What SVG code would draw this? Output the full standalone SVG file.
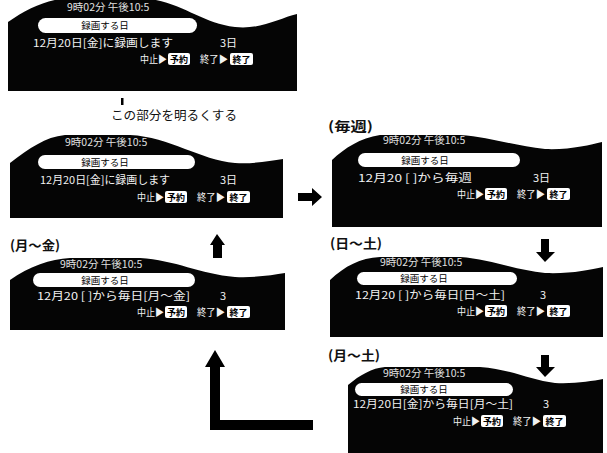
<svg xmlns="http://www.w3.org/2000/svg" xmlns:xlink="http://www.w3.org/1999/xlink" width="607" height="453" viewBox="0 0 607 453">
<style>
text{font-family:"Noto Sans CJK JP","Noto Sans",sans-serif}
.lcd{fill:#050505}
.st{fill:#e0e0e0;font-size:10.5px}
.pill{fill:#fff}
.pt{fill:#000;font-size:9.5px;text-anchor:middle}
.l2{fill:#f2f2f2;font-size:11px}
.l3{fill:#f2f2f2;font-size:10px}
.bx{fill:#fff}
.bt{fill:#000;font-size:9px;text-anchor:middle;font-weight:bold}
.lab{fill:#111;font-size:13px;font-weight:bold}
.note{fill:#111;font-size:12.5px}
.arr{fill:#000}
</style>
<defs>
<path id="s1" d="M8,22 C28,8 48,-1 70,-2 L140,-2 C180,0 200,23 235,27 C260,30 280,18 297,14 L297,91 L8,91 Z"/>
<path id="s2" d="M10,163 C30,148 45,137 65,135 L130,135 C170,137 200,160 235,163 C255,164 270,161 283,159 L283,218 L10,218 Z"/>
<path id="s3" d="M332,160 C345,148 360,138 380,135 L460,135 C490,137 515,146 545,149 C570,150 590,145 602,142 L602,227 L332,227 Z"/>
<path id="s4" d="M330,280 C345,266 360,258 380,257 L460,257 C490,259 515,270 545,273 C570,274 590,270 603,267 L603,337 L330,337 Z"/>
<path id="s6" d="M10,280 C30,266 50,259 70,258 L140,258 C175,260 200,274 235,277 C255,278 272,275 285,273 L285,330 L10,330 Z"/>
<path id="s5" d="M348,385 C360,375 372,368 385,367 L480,367 C510,369 530,380 555,383 C575,384 592,381 603,379 L603,453 L348,453 Z"/>
<clipPath id="c1"><use xlink:href="#s1"/></clipPath>
<clipPath id="c2"><use xlink:href="#s2"/></clipPath>
<clipPath id="c3"><use xlink:href="#s3"/></clipPath>
<clipPath id="c4"><use xlink:href="#s4"/></clipPath>
<clipPath id="c6"><use xlink:href="#s6"/></clipPath>
<clipPath id="c5"><use xlink:href="#s5"/></clipPath>
</defs>

<!-- Screen 1 (top) -->
<g id="screen1">
<use xlink:href="#s1" class="lcd"/>
<g clip-path="url(#c1)"><text class="st" x="67" y="11">9時02分 午後10:5</text></g>
<rect class="pill" x="38" y="18" width="159" height="15" rx="7.5"/>
<text class="pt" x="105" y="29">録画する日</text>
<text class="l2" x="33" y="47" textLength="140" lengthAdjust="spacingAndGlyphs">12月20日[金]に録画します</text>
<text class="l2" x="220" y="47">3日</text>
<text class="l3" x="140" y="63" textLength="27" lengthAdjust="spacingAndGlyphs">中止▶</text>
<rect class="bx" x="168" y="53" width="22" height="12" rx="2"/>
<text class="bt" x="179" y="62.5">予約</text>
<text class="l3" x="200" y="63" textLength="28" lengthAdjust="spacingAndGlyphs">終了▶</text>
<rect class="bx" x="230" y="53" width="23" height="12" rx="2"/>
<text class="bt" x="241.5" y="62.5">終了</text>
</g>

<g id="note">
<rect class="arr" x="121" y="98" width="2.5" height="7"/>
<text class="note" x="111" y="120" textLength="126" lengthAdjust="spacingAndGlyphs">この部分を明るくする</text>
</g>

<!-- Screen 2 (left middle) -->
<g id="screen2">
<use xlink:href="#s2" class="lcd"/>
<g clip-path="url(#c2)"><text class="st" x="65" y="146">9時02分 午後10:5</text></g>
<rect class="pill" x="38" y="155" width="157" height="14" rx="7"/>
<text class="pt" x="105" y="165.5">録画する日</text>
<text class="l2" x="40" y="184" textLength="130" lengthAdjust="spacingAndGlyphs">12月20日[金]に録画します</text>
<text class="l2" x="220" y="184">3日</text>
<text class="l3" x="137" y="201" textLength="27" lengthAdjust="spacingAndGlyphs">中止▶</text>
<rect class="bx" x="165" y="191" width="22" height="12" rx="2"/>
<text class="bt" x="176" y="200.5">予約</text>
<text class="l3" x="197" y="201" textLength="28" lengthAdjust="spacingAndGlyphs">終了▶</text>
<rect class="bx" x="227" y="191" width="23" height="12" rx="2"/>
<text class="bt" x="238.5" y="200.5">終了</text>
</g>

<!-- Screen 3 (weekly) -->
<g id="screen3">
<text class="lab" x="328" y="131" textLength="45" lengthAdjust="spacingAndGlyphs">(毎週)</text>
<use xlink:href="#s3" class="lcd"/>
<g clip-path="url(#c3)"><text class="st" x="383" y="144">9時02分 午後10:5</text></g>
<rect class="pill" x="358" y="153" width="162" height="14" rx="7"/>
<text class="pt" x="425" y="163.5">録画する日</text>
<text class="l2" x="358" y="182" textLength="114" lengthAdjust="spacingAndGlyphs">12月20 [ ]から毎週</text>
<text class="l2" x="533" y="182">3日</text>
<text class="l3" x="457" y="198" textLength="27" lengthAdjust="spacingAndGlyphs">中止▶</text>
<rect class="bx" x="485" y="188" width="22" height="12" rx="2"/>
<text class="bt" x="496" y="197.5">予約</text>
<text class="l3" x="517" y="198" textLength="28" lengthAdjust="spacingAndGlyphs">終了▶</text>
<rect class="bx" x="547" y="188" width="23" height="12" rx="2"/>
<text class="bt" x="558.5" y="197.5">終了</text>
</g>

<!-- Screen 4 (Sun-Sat) -->
<g id="screen4">
<text class="lab" x="330" y="248" textLength="52" lengthAdjust="spacingAndGlyphs">(日〜土)</text>
<use xlink:href="#s4" class="lcd"/>
<g clip-path="url(#c4)"><text class="st" x="380" y="266">9時02分 午後10:5</text></g>
<rect class="pill" x="357" y="272" width="160" height="13" rx="6.5"/>
<text class="pt" x="424" y="282">録画する日</text>
<text class="l2" x="355" y="299" textLength="150" lengthAdjust="spacingAndGlyphs">12月20 [ ]から毎日[日〜土]</text>
<text class="l2" x="540" y="299">3</text>
<text class="l3" x="457" y="315" textLength="27" lengthAdjust="spacingAndGlyphs">中止▶</text>
<rect class="bx" x="485" y="305" width="22" height="12" rx="2"/>
<text class="bt" x="496" y="314.5">予約</text>
<text class="l3" x="517" y="315" textLength="28" lengthAdjust="spacingAndGlyphs">終了▶</text>
<rect class="bx" x="547" y="305" width="23" height="12" rx="2"/>
<text class="bt" x="558.5" y="314.5">終了</text>
</g>

<!-- Screen 6 (Mon-Fri) -->
<g id="screen6">
<text class="lab" x="10" y="250" textLength="50" lengthAdjust="spacingAndGlyphs">(月〜金)</text>
<use xlink:href="#s6" class="lcd"/>
<g clip-path="url(#c6)"><text class="st" x="60" y="268">9時02分 午後10:5</text></g>
<rect class="pill" x="33" y="273" width="162" height="14" rx="7"/>
<text class="pt" x="105" y="283.5">録画する日</text>
<text class="l2" x="37" y="300" textLength="153" lengthAdjust="spacingAndGlyphs">12月20 [ ]から毎日[月〜金]</text>
<text class="l2" x="220" y="300">3</text>
<text class="l3" x="137" y="316" textLength="27" lengthAdjust="spacingAndGlyphs">中止▶</text>
<rect class="bx" x="165" y="306" width="22" height="12" rx="2"/>
<text class="bt" x="176" y="315.5">予約</text>
<text class="l3" x="197" y="316" textLength="28" lengthAdjust="spacingAndGlyphs">終了▶</text>
<rect class="bx" x="227" y="306" width="23" height="12" rx="2"/>
<text class="bt" x="238.5" y="315.5">終了</text>
</g>

<!-- Screen 5 (Mon-Sat) -->
<g id="screen5">
<text class="lab" x="328" y="360" textLength="52" lengthAdjust="spacingAndGlyphs">(月〜土)</text>
<use xlink:href="#s5" class="lcd"/>
<g clip-path="url(#c5)"><text class="st" x="383" y="377">9時02分 午後10:5</text></g>
<rect class="pill" x="355" y="383" width="158" height="13" rx="6.5"/>
<text class="pt" x="424" y="393">録画する日</text>
<text class="l2" x="353" y="408" textLength="160" lengthAdjust="spacingAndGlyphs">12月20日[金]から毎日[月〜土]</text>
<text class="l2" x="543" y="408">3</text>
<text class="l3" x="453" y="425" textLength="27" lengthAdjust="spacingAndGlyphs">中止▶</text>
<rect class="bx" x="481" y="415" width="22" height="12" rx="2"/>
<text class="bt" x="492" y="424.5">予約</text>
<text class="l3" x="513" y="425" textLength="28" lengthAdjust="spacingAndGlyphs">終了▶</text>
<rect class="bx" x="543" y="415" width="23" height="12" rx="2"/>
<text class="bt" x="554.5" y="424.5">終了</text>
</g>

<!-- Connectors -->
<g id="connectors" class="arr">
<polygon points="298,193 312,193 312,188 322,197 312,206 312,201 298,201"/>
<polygon points="213,258 213,245 210,245 217,234 225,245 222,245 222,258"/>
<polygon points="541,239 549,239 549,252 555,252 545,262 536,252 541,252"/>
<polygon points="541,355 549,355 549,367 555,367 545,377 536,367 541,367"/>
<polygon points="313,420 220,420 220,367 225,367 215,350 205,367 210,367 210,430 313,430"/>
</g>
</svg>
